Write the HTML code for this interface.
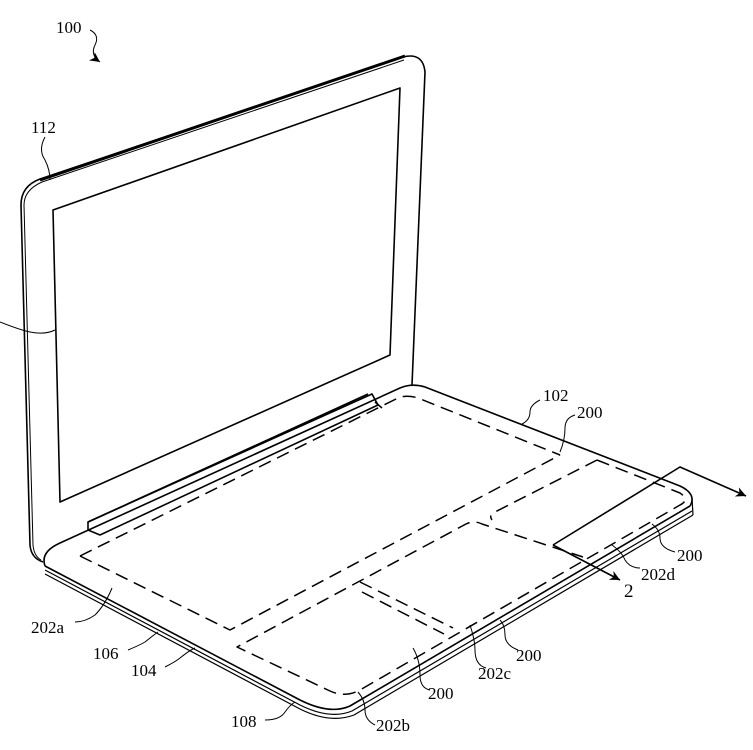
<!DOCTYPE html>
<html><head><style>html,body{margin:0;padding:0;background:#fff}svg{display:block}
text{font-family:"Liberation Serif",serif;font-size:17px;fill:#000}</style></head><body>
<svg width="753" height="750" viewBox="0 0 753 750" xmlns="http://www.w3.org/2000/svg">
<defs><marker id="ah" viewBox="0 0 10 10" refX="10" refY="5" markerWidth="14" markerHeight="10" orient="auto" markerUnits="userSpaceOnUse"><path d="M0,0 L10,5 L0,10 L3,5 z" fill="#000"/></marker></defs>
<g fill="none" stroke="#000" stroke-width="1.6" stroke-linejoin="round">
<path d="M43,562 Q31,558 30,545 L21,205 Q21,186 40,179 L403,57 Q423,52 425,72 L412,385" stroke-width="1.6"/>
<path d="M41,560 Q34,556 33,545 L24,205 Q24,190 42,182 L404,60" stroke-width="1"/>
<path d="M40,180 L405,56" stroke-width="3"/>
<path d="M53,210 L400,88 L390,355 L60,502 Z"/>
<path d="M88,522 L88,530 L100,535 L378,405 L372,394 Z"/>
<path d="M88,522 L368,394" />
<path d="M375,402 L382,408"/>
<path d="M45,566 Q40,552 60,543 L400,388 Q412,383 425,387 L680,486 Q697,494 690,506"/>
<path d="M45,566 L300,700 Q330,715 350,706 L690,506"/>
<path d="M45,570 L300,705 Q330,720 352,711 L692,511" stroke-width="1.2"/>
<path d="M45,574 L300,709 Q330,724 354,715 L693,515" stroke-width="1.2"/>
<path d="M692,498 L693,515" stroke-width="1.2"/>
<g stroke-dasharray="13,7" stroke-width="1.5">
<path d="M80,556 L396,399 Q405,394 418,398 L560,455"/>
<path d="M80,556 L230,630 L560,455"/>
<path d="M597,460 L680,493 Q690,500 680,505 L360,690 Q345,698 330,691 L237,647 L466,524 Q474,520 482,524 L583,557"/>
<path d="M597,460 L493,513 Q489,516 492,520"/>
<path d="M360,582 L453,628"/>
<path d="M362,592 L444,634"/>
</g>
<path d="M553,545 L680,467 L746,496" marker-end="url(#ah)"/>
<path d="M553,545 L620,580" marker-end="url(#ah)"/>
<g stroke-width="1">
<path d="M90,30 Q100,35 95,45 Q90,55 100,62" marker-end="url(#ah)"/>
<path d="M45,137 Q38,150 45,160 Q50,170 50,180"/>
<path d="M0,322 Q20,330 30,332 Q45,335 55,330"/>
<path d="M540,400 Q530,405 530,412 Q530,420 522,424"/>
<path d="M575,415 Q565,418 565,428 Q565,440 560,452"/>
<path d="M675,552 Q660,548 660,538 Q660,530 652,524"/>
<path d="M640,568 Q630,568 625,560 Q622,552 612,545"/>
<path d="M518,650 Q505,645 505,635 Q505,625 500,620"/>
<path d="M486,668 Q475,665 475,650 Q475,640 470,625"/>
<path d="M430,690 Q420,688 420,675 Q420,660 413,648"/>
<path d="M375,725 Q365,720 365,710 Q365,700 358,692"/>
<path d="M265,720 Q280,720 285,712 Q290,705 295,702"/>
<path d="M165,667 Q175,662 180,658 Q190,650 195,648"/>
<path d="M128,650 Q140,645 145,642 Q155,634 158,632"/>
<path d="M75,622 Q85,622 95,615 Q105,605 112,588"/>
</g>
</g>
<text x="56" y="33">100</text>
<text x="31" y="133">112</text>
<text x="543" y="401">102</text>
<text x="577" y="418">200</text>
<text x="677" y="561">200</text>
<text x="641" y="580">202d</text>
<text x="624" y="597" style="font-size:19px">2</text>
<text x="516" y="661">200</text>
<text x="478" y="679">202c</text>
<text x="428" y="699">200</text>
<text x="376" y="731">202b</text>
<text x="231" y="727">108</text>
<text x="131" y="676">104</text>
<text x="93" y="659">106</text>
<text x="31" y="633">202a</text>
</svg>
</body></html>
